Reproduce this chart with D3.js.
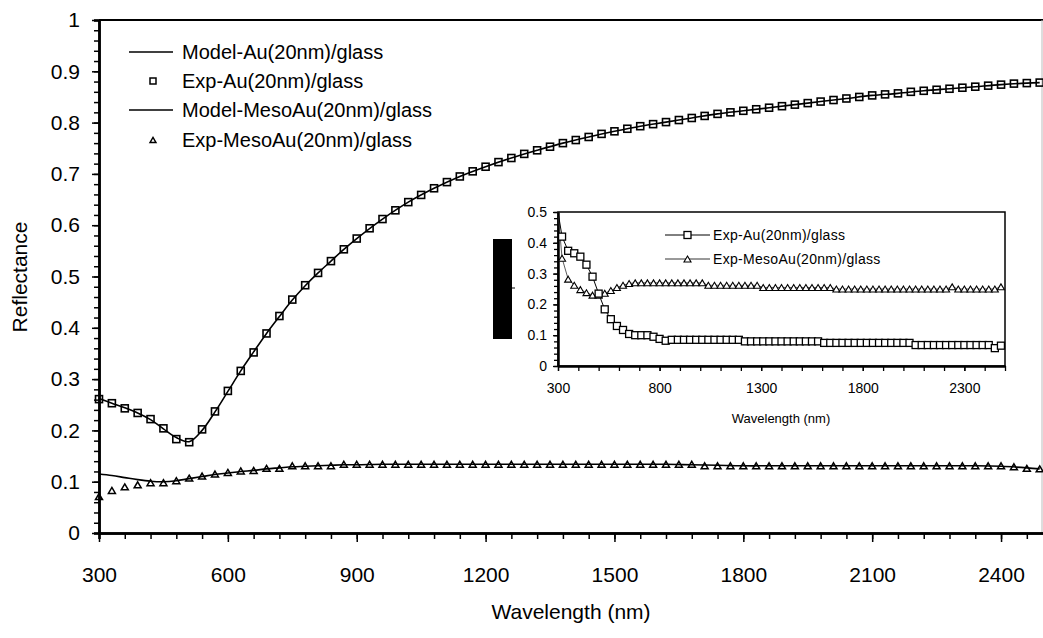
<!DOCTYPE html>
<html>
<head>
<meta charset="utf-8">
<script src="https://cdn.jsdelivr.net/npm/d3@7"></script>
<style>
  body { margin: 0; background: #fff; }
  svg { display: block; }
  text { font-family: Arial, "Liberation Sans", sans-serif; fill: #000; }
</style>
</head>
<body>
<div id="chart"></div>
<script>
// main chart: measured spectra, every 30 nm
var expWl = [300, 330, 360, 390, 420, 450, 480, 510, 540, 570, 600, 630, 660, 690, 720, 750, 780, 810, 840, 870,
             900, 930, 960, 990, 1020, 1050, 1080, 1110, 1140, 1170, 1200, 1230, 1260, 1290, 1320, 1350, 1380, 1410, 1440, 1470,
             1500, 1530, 1560, 1590, 1620, 1650, 1680, 1710, 1740, 1770, 1800, 1830, 1860, 1890, 1920, 1950, 1980, 2010, 2040, 2070,
             2100, 2130, 2160, 2190, 2220, 2250, 2280, 2310, 2340, 2370, 2400, 2430, 2460, 2490];
var expAu = [0.261, 0.253, 0.243, 0.234, 0.222, 0.204, 0.183, 0.177, 0.202, 0.237, 0.277, 0.316, 0.352, 0.389, 0.423, 0.455, 0.483, 0.507, 0.530, 0.553,
             0.574, 0.594, 0.612, 0.629, 0.645, 0.659, 0.672, 0.684, 0.695, 0.705, 0.714, 0.723, 0.731, 0.739, 0.746, 0.753, 0.760, 0.766, 0.772, 0.778,
             0.783, 0.788, 0.793, 0.797, 0.801, 0.805, 0.809, 0.813, 0.817, 0.820, 0.823, 0.826, 0.829, 0.832, 0.835, 0.838, 0.841, 0.844, 0.847, 0.850,
             0.853, 0.855, 0.857, 0.860, 0.862, 0.864, 0.866, 0.868, 0.870, 0.872, 0.874, 0.876, 0.877, 0.878];
var expMeso = [0.071, 0.083, 0.090, 0.094, 0.098, 0.098, 0.102, 0.107, 0.111, 0.115, 0.118, 0.121, 0.122, 0.126, 0.126, 0.131, 0.131, 0.131, 0.131, 0.134,
               0.134, 0.134, 0.134, 0.134, 0.134, 0.134, 0.134, 0.134, 0.134, 0.134, 0.134, 0.134, 0.134, 0.134, 0.134, 0.134, 0.134, 0.134, 0.134, 0.134,
               0.134, 0.134, 0.134, 0.134, 0.134, 0.134, 0.134, 0.131, 0.131, 0.131, 0.131, 0.131, 0.131, 0.131, 0.131, 0.131, 0.131, 0.131, 0.131, 0.131,
               0.131, 0.131, 0.131, 0.131, 0.131, 0.131, 0.131, 0.131, 0.131, 0.131, 0.131, 0.129, 0.126, 0.125];

// main chart: model curves
var modelWl = [300, 330, 360, 390, 420, 450, 480, 510, 540, 570, 600, 630, 660, 690, 720, 750, 780, 810, 840, 870, 900,
               960, 1020, 1080, 1140, 1200, 1260, 1320, 1380, 1440, 1500, 1560, 1620, 1680, 1740, 1800, 1860, 1920, 1980, 2040,
               2100, 2160, 2220, 2280, 2340, 2400, 2460, 2490];
var modelAu = [0.262, 0.253, 0.244, 0.234, 0.221, 0.203, 0.186, 0.178, 0.200, 0.236, 0.276, 0.316, 0.353, 0.389, 0.422, 0.454, 0.482, 0.507, 0.530, 0.553, 0.574,
               0.612, 0.645, 0.672, 0.695, 0.714, 0.731, 0.746, 0.760, 0.772, 0.783, 0.793, 0.801, 0.809, 0.817, 0.823, 0.829, 0.835, 0.841, 0.847,
               0.853, 0.857, 0.862, 0.866, 0.870, 0.874, 0.877, 0.878];
var modelMeso = [0.115, 0.112, 0.108, 0.104, 0.101, 0.100, 0.102, 0.106, 0.110, 0.114, 0.117, 0.120, 0.122, 0.125, 0.127, 0.129, 0.130, 0.131, 0.132, 0.133, 0.133,
                 0.134, 0.134, 0.134, 0.134, 0.134, 0.134, 0.134, 0.134, 0.134, 0.134, 0.134, 0.134, 0.133, 0.132, 0.131, 0.131, 0.131, 0.131, 0.131,
                 0.131, 0.131, 0.131, 0.131, 0.131, 0.130, 0.127, 0.125];

var legendNames = ["Model-Au(20nm)/glass", "Exp-Au(20nm)/glass", "Model-MesoAu(20nm)/glass", "Exp-MesoAu(20nm)/glass"];
var xTicks = [300, 600, 900, 1200, 1500, 1800, 2100, 2400];
var yTicks = [0, 0.1, 0.2, 0.3, 0.4, 0.5, 0.6, 0.7, 0.8, 0.9, 1];

// inset: wide range spectra
var insetWl = [300, 320, 350, 380, 410, 440, 470, 500, 530, 560, 590, 620, 650, 680, 710, 740, 770, 800, 830, 860,
               890, 920, 950, 980, 1010, 1040, 1070, 1100, 1130, 1160, 1190, 1220, 1250, 1280, 1310, 1340, 1370, 1400, 1430, 1460,
               1490, 1520, 1550, 1580, 1610, 1640, 1670, 1700, 1730, 1760, 1790, 1820, 1850, 1880, 1910, 1940, 1970, 2000, 2030, 2060,
               2090, 2120, 2150, 2180, 2210, 2240, 2270, 2300, 2330, 2360, 2390, 2420, 2450, 2480];
var insetAu = [0.50, 0.42, 0.374, 0.366, 0.355, 0.329, 0.290, 0.235, 0.184, 0.152, 0.130, 0.117, 0.104, 0.100, 0.100, 0.100, 0.095, 0.088, 0.082, 0.085,
               0.085, 0.085, 0.085, 0.085, 0.085, 0.085, 0.085, 0.085, 0.085, 0.085, 0.085, 0.080, 0.080, 0.080, 0.080, 0.080, 0.080, 0.080, 0.080, 0.080,
               0.080, 0.080, 0.080, 0.080, 0.075, 0.075, 0.075, 0.075, 0.075, 0.075, 0.075, 0.075, 0.075, 0.075, 0.075, 0.075, 0.075, 0.075, 0.075, 0.068,
               0.068, 0.068, 0.068, 0.068, 0.068, 0.068, 0.068, 0.068, 0.068, 0.068, 0.068, 0.068, 0.058, 0.066];
var insetMeso = [0.50, 0.350, 0.282, 0.262, 0.248, 0.238, 0.230, 0.230, 0.236, 0.245, 0.255, 0.262, 0.268, 0.270, 0.270, 0.270, 0.270, 0.270, 0.270, 0.270,
                 0.270, 0.270, 0.270, 0.270, 0.270, 0.262, 0.262, 0.262, 0.262, 0.262, 0.262, 0.262, 0.262, 0.262, 0.255, 0.255, 0.255, 0.255, 0.255, 0.255,
                 0.255, 0.255, 0.255, 0.255, 0.255, 0.255, 0.250, 0.250, 0.250, 0.250, 0.250, 0.250, 0.250, 0.250, 0.250, 0.250, 0.250, 0.250, 0.250, 0.250,
                 0.250, 0.250, 0.250, 0.250, 0.250, 0.257, 0.250, 0.250, 0.250, 0.250, 0.250, 0.250, 0.250, 0.257];
var insetNames = ["Exp-Au(20nm)/glass", "Exp-MesoAu(20nm)/glass"];
var insetXTicks = [300, 800, 1300, 1800, 2300];
var insetYTicks = [0, 0.1, 0.2, 0.3, 0.4, 0.5];

var W = 1043, H = 638;
var svg = d3.select("#chart").append("svg").attr("width", W).attr("height", H);

// ---------- main plot ----------
var x = d3.scaleLinear().domain([300, 2500]).range([99, 1044]);
var y = d3.scaleLinear().domain([0, 1]).range([533, 20]);

// frame: thick top line, light right line
svg.append("line").attr("x1", 99).attr("x2", W).attr("y1", 20).attr("y2", 20)
  .attr("stroke", "#000").attr("stroke-width", 2);
svg.append("line").attr("x1", 1042).attr("x2", 1042).attr("y1", 20).attr("y2", 533)
  .attr("stroke", "#bbb").attr("stroke-width", 1);

// minor ticks
var gx = svg.append("g").attr("transform", "translate(0,533)");
gx.call(d3.axisBottom(x).tickValues(d3.range(300, 2501, 60)).tickSize(6).tickFormat(""));
gx.append("g").call(d3.axisBottom(x).tickValues(xTicks).tickSize(9).tickSizeOuter(0).tickPadding(25)
  .tickFormat(d3.format("d")));
gx.selectAll("path.domain").attr("stroke-width", 2.5);
gx.selectAll("line").attr("stroke-width", 1.5);
gx.selectAll("text").style("font-size", "21px").attr("fill", "#000");

var gy = svg.append("g").attr("transform", "translate(99,0)");
gy.call(d3.axisLeft(y).tickValues(d3.range(0, 1.001, 0.02)).tickSize(5).tickFormat(""));
gy.append("g").call(d3.axisLeft(y).tickValues(yTicks).tickSize(7).tickSizeOuter(0).tickPadding(12)
  .tickFormat(function(d) { return d === 0 || d === 1 ? d3.format("d")(d) : d3.format(".1f")(d); }));
gy.selectAll("path.domain").attr("stroke-width", 2.5);
gy.selectAll("line").attr("stroke-width", 1.5);
gy.selectAll("text").style("font-size", "21px").attr("fill", "#000");

svg.append("text").attr("x", 571).attr("y", 619).attr("text-anchor", "middle")
  .style("font-size", "21px").text("Wavelength (nm)");
svg.append("text").attr("transform", "translate(27,277) rotate(-90)").attr("text-anchor", "middle")
  .style("font-size", "21px").text("Reflectance");

var line = d3.line().x(function(d) { return x(d[0]); }).y(function(d) { return y(d[1]); })
  .curve(d3.curveCatmullRom);

svg.append("path").datum(d3.zip(modelWl, modelAu)).attr("d", line)
  .attr("fill", "none").attr("stroke", "#000").attr("stroke-width", 1.6);
svg.append("path").datum(d3.zip(modelWl, modelMeso)).attr("d", line)
  .attr("fill", "none").attr("stroke", "#000").attr("stroke-width", 1.6);

var sq = 7, tri = 7;
function trianglePath(cx, cy, s) {
  var h = s * 0.85;
  return "M" + cx + "," + (cy - h / 2) + "L" + (cx + s / 2) + "," + (cy + h / 2) + "L" + (cx - s / 2) + "," + (cy + h / 2) + "Z";
}

svg.append("g").selectAll("rect").data(d3.zip(expWl, expAu)).join("rect")
  .attr("x", function(d) { return x(d[0]) - sq / 2; })
  .attr("y", function(d) { return y(d[1]) - sq / 2; })
  .attr("width", sq).attr("height", sq)
  .attr("fill", "none").attr("stroke", "#000").attr("stroke-width", 1.6);

svg.append("g").selectAll("path").data(d3.zip(expWl, expMeso)).join("path")
  .attr("d", function(d) { return trianglePath(x(d[0]), y(d[1]), tri); })
  .attr("fill", "none").attr("stroke", "#000").attr("stroke-width", 1.5);

// legend
var legY = [52, 81, 110, 140];
legendNames.forEach(function(name, i) {
  if (i === 0 || i === 2) {
    svg.append("line").attr("x1", 129).attr("x2", 173).attr("y1", legY[i]).attr("y2", legY[i])
      .attr("stroke", "#000").attr("stroke-width", 1.6);
  } else if (i === 1) {
    svg.append("rect").attr("x", 153 - 3).attr("y", legY[i] - 3).attr("width", 6).attr("height", 6)
      .attr("fill", "none").attr("stroke", "#000").attr("stroke-width", 1.5);
  } else {
    svg.append("path").attr("d", trianglePath(153, legY[i], 6))
      .attr("fill", "none").attr("stroke", "#000").attr("stroke-width", 1.4);
  }
  svg.append("text").attr("x", 182).attr("y", legY[i] + 7).style("font-size", "20px").text(name);
});

// ---------- inset ----------
var ix = d3.scaleLinear().domain([300, 2500]).range([558, 1005]);
var iy = d3.scaleLinear().domain([0, 0.5]).range([366, 212]);

svg.append("rect").attr("x", 558).attr("y", 212).attr("width", 1005 - 558).attr("height", 366 - 212)
  .attr("fill", "#fff").attr("stroke", "#000").attr("stroke-width", 1.5);

var igx = svg.append("g").attr("transform", "translate(0,366)");
igx.call(d3.axisBottom(ix).tickValues(d3.range(300, 2501, 100)).tickSize(5).tickSizeOuter(0).tickFormat(""));
igx.append("g").call(d3.axisBottom(ix).tickValues(insetXTicks).tickSize(5).tickSizeOuter(0).tickPadding(12)
  .tickFormat(d3.format("d")));
igx.selectAll("path.domain").attr("stroke-width", 2);
igx.selectAll("line").attr("stroke-width", 1.3);
igx.selectAll("text").style("font-size", "14px").attr("fill", "#000");

var igy = svg.append("g").attr("transform", "translate(558,0)");
igy.call(d3.axisLeft(iy).tickValues(d3.range(0, 0.501, 0.02)).tickSize(4).tickSizeOuter(0).tickFormat(""));
igy.append("g").call(d3.axisLeft(iy).tickValues(insetYTicks).tickSize(5).tickSizeOuter(0).tickPadding(6)
  .tickFormat(function(d) { return d === 0 ? "0" : d3.format(".1f")(d); }));
igy.selectAll("path.domain").attr("stroke-width", 2);
igy.selectAll("line").attr("stroke-width", 1.3);
igy.selectAll("text").style("font-size", "14px").attr("fill", "#000");

svg.append("text").attr("x", 781).attr("y", 423).attr("text-anchor", "middle")
  .style("font-size", "13px").text("Wavelength (nm)");

// blacked-out y title of the inset
svg.append("rect").attr("x", 493).attr("y", 239).attr("width", 19).attr("height", 100).attr("fill", "#000");
svg.append("line").attr("x1", 512).attr("x2", 515).attr("y1", 288).attr("y2", 288).attr("stroke", "#000");

var iline = d3.line().x(function(d) { return ix(d[0]); }).y(function(d) { return iy(d[1]); });

svg.append("path").datum(d3.zip(insetWl, insetMeso)).attr("d", iline)
  .attr("fill", "none").attr("stroke", "#333").attr("stroke-width", 0.8);
svg.append("path").datum(d3.zip(insetWl, insetAu)).attr("d", iline)
  .attr("fill", "none").attr("stroke", "#000").attr("stroke-width", 1);

svg.append("g").selectAll("path").data(d3.zip(insetWl, insetMeso).slice(1)).join("path")
  .attr("d", function(d) { return trianglePath(ix(d[0]), iy(d[1]), 7); })
  .attr("fill", "#fff").attr("stroke", "#000").attr("stroke-width", 1.1);
svg.append("g").selectAll("rect").data(d3.zip(insetWl, insetAu).slice(1)).join("rect")
  .attr("x", function(d) { return ix(d[0]) - 3.5; })
  .attr("y", function(d) { return iy(d[1]) - 3.5; })
  .attr("width", 7).attr("height", 7)
  .attr("fill", "#fff").attr("stroke", "#000").attr("stroke-width", 1.3);

// inset legend
var iLegY = [235, 259];
insetNames.forEach(function(name, i) {
  svg.append("line").attr("x1", 665).attr("x2", 710).attr("y1", iLegY[i]).attr("y2", iLegY[i])
    .attr("stroke", "#000").attr("stroke-width", i === 0 ? 1 : 0.8);
  if (i === 0) {
    svg.append("rect").attr("x", 684).attr("y", iLegY[i] - 3.5).attr("width", 7).attr("height", 7)
      .attr("fill", "#fff").attr("stroke", "#000").attr("stroke-width", 1.3);
  } else {
    svg.append("path").attr("d", trianglePath(687.5, iLegY[i], 7))
      .attr("fill", "#fff").attr("stroke", "#000").attr("stroke-width", 1.1);
  }
  svg.append("text").attr("x", 713).attr("y", iLegY[i] + 5).style("font-size", "14px")
    .style("letter-spacing", "0.3px").text(name);
});
</script>
</body>
</html>
